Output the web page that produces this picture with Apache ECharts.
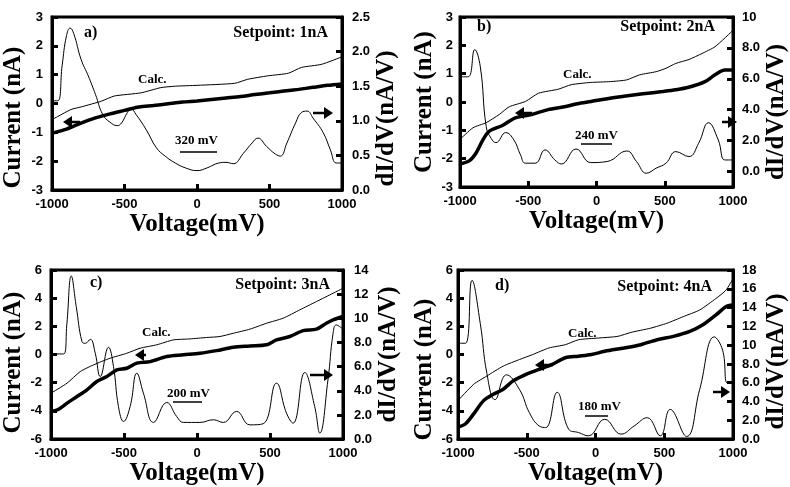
<!DOCTYPE html>
<html><head><meta charset="utf-8">
<script src="https://cdn.jsdelivr.net/npm/echarts@6/dist/echarts.min.js"></script>
<style>html,body{margin:0;padding:0;background:#fff}#c{width:790px;height:487px}</style>
</head><body><div id="c"></div>
<script>
// ---------- DATA ----------
const xTicks = [-1000, -500, 0, 500, 1000];
// Panel a (setpoint 1 nA)
const aMeasV = [-1000,-900,-800,-700,-600,-500,-400,-300,-200,-100,0,100,200,300,400,500,600,700,800,900,1000];
const aMeasI = [-1.03,-0.89,-0.68,-0.50,-0.36,-0.24,-0.12,-0.07,-0.01,0.05,0.09,0.14,0.19,0.24,0.31,0.37,0.43,0.49,0.56,0.63,0.68];
const aCalcV = [-1000,-960,-870,-800,-660,-570,-385,-250,-150,0,260,350,490,630,720,860,1000];
const aCalcI = [-0.56,-0.45,-0.21,-0.12,0.08,0.26,0.37,0.55,0.60,0.63,0.70,0.84,0.96,1.05,1.25,1.36,1.62];
const aDidvV = [-1000,-960,-930,-900,-875,-850,-800,-750,-700,-650,-600,-550,-520,-480,-455,-420,-350,-280,-220,-150,-80,0,70,150,200,250,320,380,420,480,540,575,620,680,720,760,800,870,920,960,1000];
const aDidv  = [1.29,1.29,1.80,2.23,2.34,2.26,1.89,1.65,1.38,1.09,0.98,0.93,0.97,1.12,1.17,1.09,0.87,0.61,0.49,0.39,0.32,0.28,0.32,0.39,0.40,0.38,0.53,0.68,0.75,0.63,0.52,0.49,0.68,0.97,1.12,1.14,1.04,0.83,0.58,0.39,0.39];
// Panel b (setpoint 2 nA)
const bMeasV = [-1000,-930,-880,-830,-785,-690,-595,-475,-355,-235,-140,-40,55,200,340,485,580,675,795,868,940,1000];
const bMeasI = [-2.19,-2.07,-1.78,-1.32,-1.03,-0.83,-0.56,-0.44,-0.27,-0.17,-0.06,0.02,0.10,0.20,0.29,0.37,0.43,0.52,0.72,0.96,1.13,1.13];
const bCalcV = [-1000,-905,-808,-712,-640,-520,-425,-281,-186,-42,102,221,317,437,509,580,677,772,868,1000];
const bCalcI = [-1.32,-0.91,-0.73,-0.44,-0.17,0.02,0.31,0.45,0.61,0.69,0.72,0.78,0.96,1.07,1.19,1.36,1.50,1.71,1.95,2.53];
const bDidvV = [-1000,-940,-892,-851,-808,-772,-737,-665,-605,-557,-521,-449,-377,-305,-257,-150,-42,78,222,293,365,437,509,581,677,748,820,892,940,1000];
const bDidv  = [6.13,6.13,7.89,6.77,2.90,2.15,1.87,2.52,2.04,1.08,0.54,0.54,1.40,0.75,0.49,1.46,0.58,0.65,1.33,0.65,-0.11,0.22,0.54,1.29,0.97,1.83,3.16,2.04,0.75,0.75];
// Panel c (setpoint 3 nA)
const cMeasV = [-1000,-955,-890,-822,-754,-686,-617,-549,-481,-412,-321,-207,-93,20,134,248,362,476,544,636,727,818,886,932,1000];
const cMeasI = [-4.04,-3.92,-3.45,-2.98,-2.50,-1.91,-1.56,-1.09,-0.97,-0.61,-0.50,-0.14,-0.02,0.09,0.28,0.52,0.61,0.69,1.04,1.28,1.70,1.80,2.22,2.46,2.70];
const cCalcV = [-1000,-890,-800,-708,-595,-481,-390,-276,-162,-48,66,157,248,362,476,590,704,818,932,1000];
const cCalcI = [-2.74,-2.03,-1.21,-0.73,-0.26,0.09,0.45,0.69,1.04,1.11,1.21,1.28,1.51,1.80,2.22,2.58,3.17,3.76,4.35,4.70];
const cDidvV = [-1000,-913,-891,-861,-827,-788,-765,-731,-697,-663,-606,-572,-538,-503,-458,-412,-367,-298,-207,-139,-93,20,112,180,271,362,453,544,613,658,738,806,841,897,932,954,1000];
const cDidv  = [7.05,7.05,9.59,13.5,10.96,8.07,7.93,8.26,7.11,5.18,7.60,6.01,2.70,1.46,2.70,5.45,3.80,1.38,3.03,1.87,1.38,1.38,1.60,1.38,2.29,1.18,1.27,4.63,2.15,1.32,5.51,2.70,0.50,4.90,8.76,9.45,9.09];
// Panel d (setpoint 4 nA)
const dMeasV = [-1000,-945,-886,-814,-743,-671,-600,-505,-410,-314,-219,-124,-29,67,210,329,448,567,686,781,876,948,1000];
const dMeasI = [-5.15,-4.91,-4.21,-3.27,-2.81,-2.46,-1.87,-1.40,-1.05,-0.70,-0.23,-0.12,0.00,0.23,0.47,0.70,1.05,1.29,1.64,2.11,2.81,3.39,3.51];
const dCalcV = [-1000,-886,-790,-671,-552,-457,-338,-219,-124,19,162,257,400,519,638,757,876,948,1000];
const dCalcI = [-3.27,-2.11,-1.52,-0.82,-0.35,0.00,0.47,0.70,1.05,1.17,1.29,1.57,1.87,2.22,2.69,3.16,3.98,4.56,5.38];
const dDidvV = [-1000,-945,-898,-838,-790,-731,-648,-552,-481,-410,-362,-279,-195,-124,-52,67,186,281,376,471,543,662,757,864,924,960,1000];
const dDidv  = [10.2,10.2,16.9,12.3,7.0,4.2,6.84,5.26,2.81,1.40,1.23,4.98,1.05,0.70,0.35,2.11,0.53,1.40,2.28,0.35,3.16,0.28,5.26,10.88,9.47,5.96,5.96];

// axis ranges / labels
const leftRanges  = [[-3,3,1],[-3,3,1],[-6,6,2],[-6,6,2]];
const rightRanges = [[0,2.5,0.5],[-1,10,null],[0,14,2],[0,18,2]];
const rightLabelValues = [null,[0,2,4,6,8,10],null,null];
const panelLabels = ['a)','b)','c)','d)'];
const setpoints = ['Setpoint: 1nA','Setpoint: 2nA','Setpoint: 3nA','Setpoint: 4nA'];
const scaleTexts = ['320 mV','240 mV','200 mV','180 mV'];
const calcText = 'Calc.';

// ---------- CHART ----------
const zip = (a,b) => a.map((v,i)=>[v,b[i]]);
const SERIF = '"Liberation Serif","Times New Roman",serif';
const SANS = '"Liberation Sans",Arial,sans-serif';

const grids = [
  {left:52, top:17, width:290, height:173},
  {left:460, top:17, width:281, height:170},
  {left:51, top:270, width:292, height:170},
  {left:458, top:270, width:281, height:171}
];
const leftGap = [26,18,18,15];
const rightGap = [26,29,28,27];
const leftPad = [[0,28,0,0],[0,0,0,0],[0,16,0,0],[0,30,0,0]];
const rightPad = [[0,30,0,0],[0,20,0,0],[0,0,0,0],[0,14,0,0]];
const leftMargin = [9,7,9,5];
const rightMargin = [10,9,11,9];

const axisLine = {show:true, onZero:false, lineStyle:{color:'#000', width:3}};
const tick = {show:true, inside:true, length:6, lineStyle:{color:'#000', width:3}};
const lbl = (m, fmt) => ({color:'#000', fontFamily:SANS, fontWeight:'bold', fontSize:13, margin:m, formatter:fmt});
const nameStyle = (pad) => ({color:'#000', fontFamily:SERIF, fontWeight:'bold', fontSize:25, padding:pad});

const xAxis = [], yAxis = [], series = [];
grids.forEach((g,i)=>{
  g.show = true; g.borderColor = '#000'; g.borderWidth = 3;
  xAxis.push({type:'value', gridIndex:i, min:-1000, max:1000, interval:500,
    axisLine, axisTick:tick, splitLine:{show:false},
    axisLabel:lbl(8, v => String(v)), name:'Voltage(mV)', nameLocation:'middle', nameGap:14,
    nameTextStyle:nameStyle([0,0,0,0])});
  const L = leftRanges[i];
  yAxis.push({type:'value', gridIndex:i, position:'left', min:L[0], max:L[1], interval:L[2],
    axisLine, axisTick:tick, splitLine:{show:false},
    axisLabel:lbl(leftMargin[i], v => String(v)), name:'Current (nA)', nameLocation:'middle', nameGap:leftGap[i], nameRotate:90,
    nameTextStyle:nameStyle(leftPad[i])});
  const R = rightRanges[i];
  const fmt = v => (Math.abs(v) >= 10 ? String(v) : v.toFixed(1));
  const ry = {type:'value', gridIndex:i, position:'right', min:R[0], max:R[1],
    axisLine, axisTick:tick, splitLine:{show:false},
    axisLabel:lbl(rightMargin[i], fmt), name:'dI/dV(nA/V)', nameLocation:'middle', nameGap:rightGap[i], nameRotate:90,
    nameTextStyle:nameStyle(rightPad[i])};
  if (R[2] != null) ry.interval = R[2];
  if (rightLabelValues[i]) {
    ry.axisLabel.customValues = rightLabelValues[i];
    ry.axisTick = Object.assign({}, tick, {customValues: rightLabelValues[i]});
  }
  yAxis.push(ry);
});

const panels = [
  [aMeasV,aMeasI,aCalcV,aCalcI,aDidvV,aDidv],
  [bMeasV,bMeasI,bCalcV,bCalcI,bDidvV,bDidv],
  [cMeasV,cMeasI,cCalcV,cCalcI,cDidvV,cDidv],
  [dMeasV,dMeasI,dCalcV,dCalcI,dDidvV,dDidv]
];
panels.forEach((p,i)=>{
  series.push({type:'line', xAxisIndex:i, yAxisIndex:2*i, data:zip(p[0],p[1]), symbol:'none', smooth:0.3,
    lineStyle:{color:'#000', width:3.5}, silent:true});
  series.push({type:'line', xAxisIndex:i, yAxisIndex:2*i, data:zip(p[2],p[3]), symbol:'none', smooth:0.2,
    lineStyle:{color:'#000', width:1}, silent:true});
  series.push({type:'line', xAxisIndex:i, yAxisIndex:2*i+1, data:zip(p[4],p[5]), symbol:'none', smooth:0.45,
    lineStyle:{color:'#000', width:1}, silent:true});
});

// annotation positions (pixels)
const labelPos = [[84,33],[477,27],[90,283],[495,286]];
const setPos = [[328,33],[715,27],[330,285],[712,287]];
const calcPos = [[138,80],[563,75],[142,333],[568,334]];
const scalePos = [[175,141,180,217,152],[575,136,581,612,144],[167,394,173,202,402],[578,407,585,608,416]];
const arrows = [[80,63,122],[313,333,113],[532,515,113],[722,737,122],[146,135,355],[310,333,375],[553,535,365],[713,730,392]];

const graphic = [];
const txt = (x,y,t,size,align) => ({type:'text', x, y, silent:true, style:{text:t, fill:'#000',
  font:'bold '+size+'px '+SERIF, align:align||'left', verticalAlign:'middle'}});
for (let i=0;i<4;i++){
  graphic.push(txt(labelPos[i][0],labelPos[i][1],panelLabels[i],16));
  graphic.push(txt(setPos[i][0],setPos[i][1],setpoints[i],16,'right'));
  graphic.push(txt(calcPos[i][0],calcPos[i][1],calcText,13));
  const s = scalePos[i];
  graphic.push(txt(s[0],s[1],scaleTexts[i],13));
  graphic.push({type:'line', silent:true, shape:{x1:s[2],y1:s[4],x2:s[3],y2:s[4]}, style:{stroke:'#000', lineWidth:1.5}});
}
arrows.forEach(a=>{
  const [x0,x1,y] = a; const dir = Math.sign(x1-x0); const hl = 9;
  graphic.push({type:'line', silent:true, shape:{x1:x0,y1:y,x2:x1-dir*hl,y2:y}, style:{stroke:'#000', lineWidth:2.5}});
  graphic.push({type:'polygon', silent:true, shape:{points:[[x1,y],[x1-dir*hl,y-6],[x1-dir*hl,y+6]]}, style:{fill:'#000'}});
});

const chart = echarts.init(document.getElementById('c'), null, {renderer:'canvas'});
chart.setOption({backgroundColor:'#fff', animation:false, grid:grids, xAxis, yAxis, series, graphic});
</script></body></html>
